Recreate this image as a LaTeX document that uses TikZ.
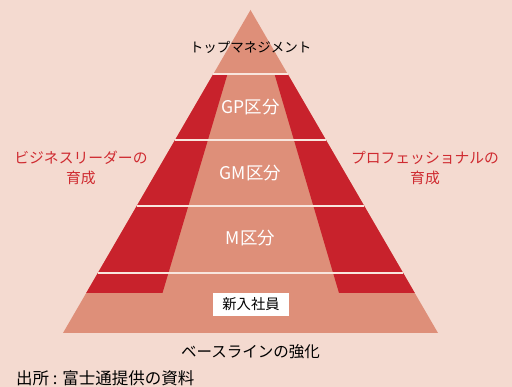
\documentclass[tikz,border=0pt]{standalone}
\usepackage{fontspec}
\setmainfont{Noto Sans CJK JP}
\definecolor{bgc}{HTML}{F4DAD0}
\definecolor{salmon}{HTML}{DE8F79}
\definecolor{redband}{HTML}{C8222C}
\definecolor{redtext}{HTML}{CF2A30}
\definecolor{sepline}{HTML}{F8E6DE}
\begin{document}
\begin{tikzpicture}[x=1pt,y=-1pt,
  lbl/.style={inner sep=0pt,font=\fontsize{13.5}{15}\selectfont},
  band/.style={inner sep=0pt,text=white,font=\fontsize{17.5}{19}\selectfont},
  side/.style={inner sep=0pt,text=redtext,align=center,font=\fontsize{14.8}{20}\selectfont},
  sep/.style={draw=sepline,line width=2pt}]
\fill[bgc] (0,0) rectangle (512,387);
\useasboundingbox (0,0) rectangle (512,387);
% pyramid
\coordinate (apex) at (250.5,10);
\coordinate (bl) at (63,333);
\coordinate (br) at (438,333);
\fill[salmon] (apex) -- (bl) -- (br) -- cycle;
% red bands
\fill[redband] (213.3,74) -- (227.5,74) -- (162.5,293) -- (86.2,293) -- cycle;
\fill[redband] (287.7,74) -- (274.5,74) -- (339.0,293) -- (414.8,293) -- cycle;
% separators
\draw[sep] (213.3,74) -- (287.7,74);
\draw[sep] (175.0,140) -- (326.0,140);
\draw[sep] (136.7,206) -- (364.3,206);
\draw[sep] (97.8,273) -- (403.2,273);
% labels
\node[lbl] (top) at (250.5,47.5) {トップマネジメント};
\node[band] (gp) at (250.5,107) {GP区分};
\node[band] (gm) at (250.5,173) {GM区分};
\node[band] (m) at (250.5,238.5) {M区分};
\node[fill=white,minimum width=76pt,minimum height=23pt,inner sep=0pt,font=\fontsize{14.3}{15}\selectfont] (new) at (251,304.5) {新入社員};
\node[lbl,font=\fontsize{15.5}{17}\selectfont] (base) at (250.5,351.5) {ベースラインの強化};
\node[side] (left) at (81,168) {ビジネスリーダーの\\育成};
\node[side] (right) at (425,168) {プロフェッショナルの\\育成};
\node[lbl,anchor=west,font=\fontsize{16.5}{18}\selectfont] (src) at (16,378) {出所 : 富士通提供の資料};
\end{tikzpicture}
\end{document}
